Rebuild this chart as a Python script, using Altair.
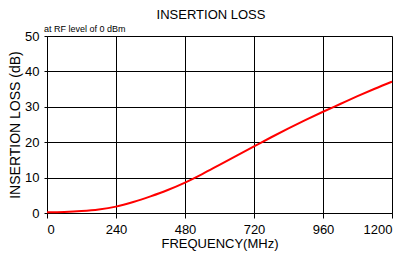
import altair as alt
import pandas as pd

freq = [0, 60, 120, 180, 240, 300, 360, 420, 480, 540, 600, 660, 720, 780, 840, 900, 960, 1020, 1080, 1140, 1200]
loss = [0.2, 0.3, 0.55, 1.0, 1.8, 3.1, 4.7, 6.5, 8.6, 11.0, 13.6, 16.2, 18.8, 21.4, 23.9, 26.3, 28.6, 30.8, 33.0, 35.1, 37.1]

x_ticks = [0, 240, 480, 720, 960, 1200]
y_ticks = [0, 10, 20, 30, 40, 50]

title_text = "INSERTION LOSS"
subtitle_text = "at RF level of 0 dBm"

df = pd.DataFrame({"f": freq, "il": loss})
FONT = "Liberation Sans"

line = alt.Chart(df).mark_line(color="#ff0000", strokeWidth=2, interpolate="monotone").encode(
    x=alt.X("f:Q", scale=alt.Scale(domain=[0, 1200], nice=False),
            axis=alt.Axis(values=x_ticks, format="d", title="FREQUENCY(MHz)", grid=True)),
    y=alt.Y("il:Q", scale=alt.Scale(domain=[0, 50], nice=False),
            axis=alt.Axis(values=y_ticks, format="d", title="INSERTION LOSS (dB)", grid=True)),
)

sub = alt.Chart(pd.DataFrame({"t": [subtitle_text]})).mark_text(
    align="left", baseline="alphabetic", font=FONT, fontSize=9, color="#000"
).encode(x=alt.value(-3), y=alt.value(-4), text="t:N")

ttl = alt.Chart(pd.DataFrame({"t": [title_text]})).mark_text(
    align="center", baseline="alphabetic", font=FONT, fontSize=13, color="#000"
).encode(x=alt.value(164), y=alt.value(-17), text="t:N")

chart = alt.layer(line, sub, ttl).properties(
    width=345, height=177,
    autosize=alt.AutoSizeParams(type="none"),
    padding={"left": 39, "top": 28, "right": 6, "bottom": 39},
).configure_view(stroke=None).configure_axis(
    labelFont=FONT, titleFont=FONT, labelFontSize=13, titleFontSize=14,
    titleFontWeight="normal", labelColor="#000", titleColor="#000",
    domainColor="#000", tickColor="#000", gridColor="#000", gridOpacity=1,
    gridWidth=1, domainWidth=1,
).configure_axisX(
    tickSize=5, labelPadding=5, titlePadding=1, titleFontSize=13,
).configure_axisY(
    tickSize=3, labelPadding=5, titlePadding=2,
)

chart.save("out.html", embed_options={"renderer": "svg", "actions": False})
